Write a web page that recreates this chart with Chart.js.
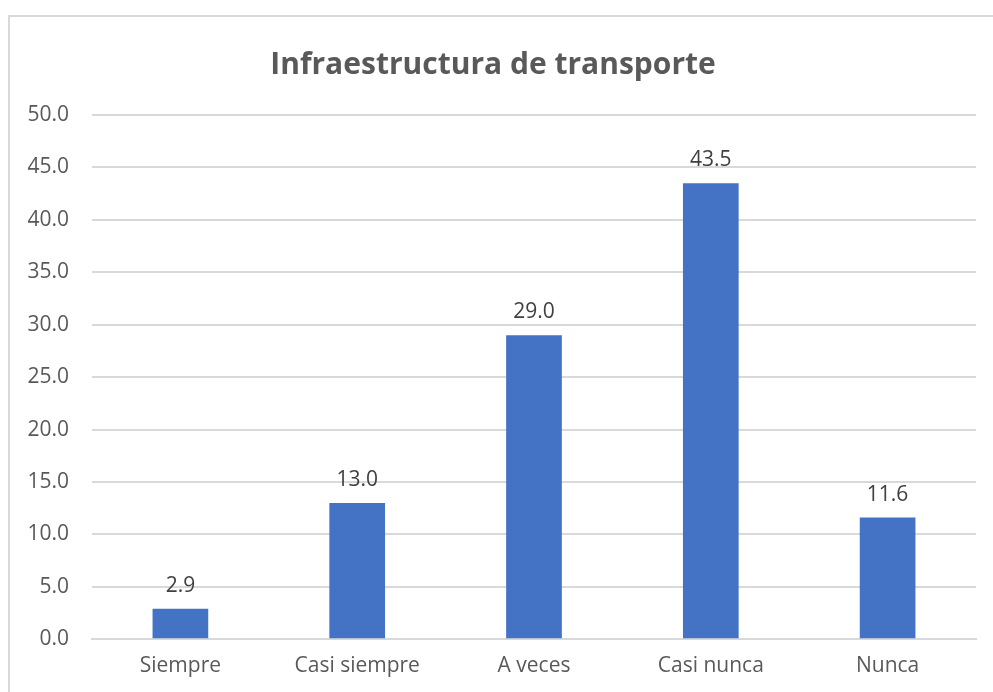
<!DOCTYPE html>
<html>
<head>
<meta charset="utf-8">
<script src="https://cdn.jsdelivr.net/npm/chart.js@4/dist/chart.umd.min.js"></script>
<style>
  html, body { margin: 0; padding: 0; background: #ffffff; }
  #wrap { position: relative; width: 993px; height: 692px; }
</style>
</head>
<body>
<div id="wrap"><canvas id="c" width="993" height="692"></canvas></div>
<script>
const categories = ["Siempre", "Casi siempre", "A veces", "Casi nunca", "Nunca"];
const values = [2.9, 13.0, 29.0, 43.5, 11.6];
const yTicks = [0, 5, 10, 15, 20, 25, 30, 35, 40, 45, 50];
const chartTitle = "Infraestructura de transporte";

const FONT = "'Open Sans', 'DejaVu Sans', sans-serif";

const framePlugin = {
  id: 'frame',
  beforeDraw(chart) {
    const ctx = chart.ctx;
    ctx.save();
    ctx.fillStyle = '#ffffff';
    ctx.fillRect(0, 0, chart.width, chart.height);
    ctx.strokeStyle = '#d9d9d9';
    ctx.lineWidth = 2;
    ctx.beginPath();
    ctx.moveTo(9, chart.height);
    ctx.lineTo(9, 16);
    ctx.lineTo(chart.width, 16);
    ctx.stroke();
    ctx.restore();
  }
};

const labelPlugin = {
  id: 'valueLabels',
  afterDatasetsDraw(chart) {
    const ctx = chart.ctx;
    const meta = chart.getDatasetMeta(0);
    ctx.save();
    ctx.font = "21px " + FONT;
    ctx.fillStyle = '#404040';
    ctx.textAlign = 'center';
    ctx.textBaseline = 'middle';
    meta.data.forEach((bar, i) => {
      ctx.fillText(values[i].toFixed(1), bar.x, bar.y - 23);
    });
    ctx.restore();
  }
};

new Chart(document.getElementById('c'), {
  type: 'bar',
  data: {
    labels: categories,
    datasets: [{
      data: values,
      backgroundColor: '#4472C4',
      borderWidth: 0,
      barPercentage: 0.315,
      categoryPercentage: 1.0
    }]
  },
  options: {
    responsive: false,
    animation: false,
    layout: { padding: { top: 32, left: 10, right: 17, bottom: 0 } },
    plugins: {
      legend: { display: false },
      tooltip: { enabled: false },
      title: {
        display: true,
        text: chartTitle,
        color: '#595959',
        font: { family: FONT, size: 30, weight: 'bold', lineHeight: 1.2 },
        padding: { top: 15, bottom: 32 }
      }
    },
    scales: {
      x: {
        grid: { display: false, drawTicks: false },
        border: { display: true, color: '#d9d9d9', width: 2 },
        ticks: {
          color: '#595959',
          font: { family: FONT, size: 21, lineHeight: 0.8 },
          padding: 18,
          maxRotation: 0
        }
      },
      y: {
        min: 0,
        max: 50,
        afterBuildTicks(scale) {
          scale.ticks = yTicks.map(v => ({ value: v }));
        },
        afterFit(scale) { scale.width = 82; },
        grid: { color: '#d9d9d9', lineWidth: 2, drawTicks: false },
        border: { display: false },
        ticks: {
          color: '#595959',
          font: { family: FONT, size: 21 },
          padding: 23,
          callback: v => Number(v).toFixed(1)
        }
      }
    }
  },
  plugins: [framePlugin, labelPlugin]
});
</script>
</body>
</html>
